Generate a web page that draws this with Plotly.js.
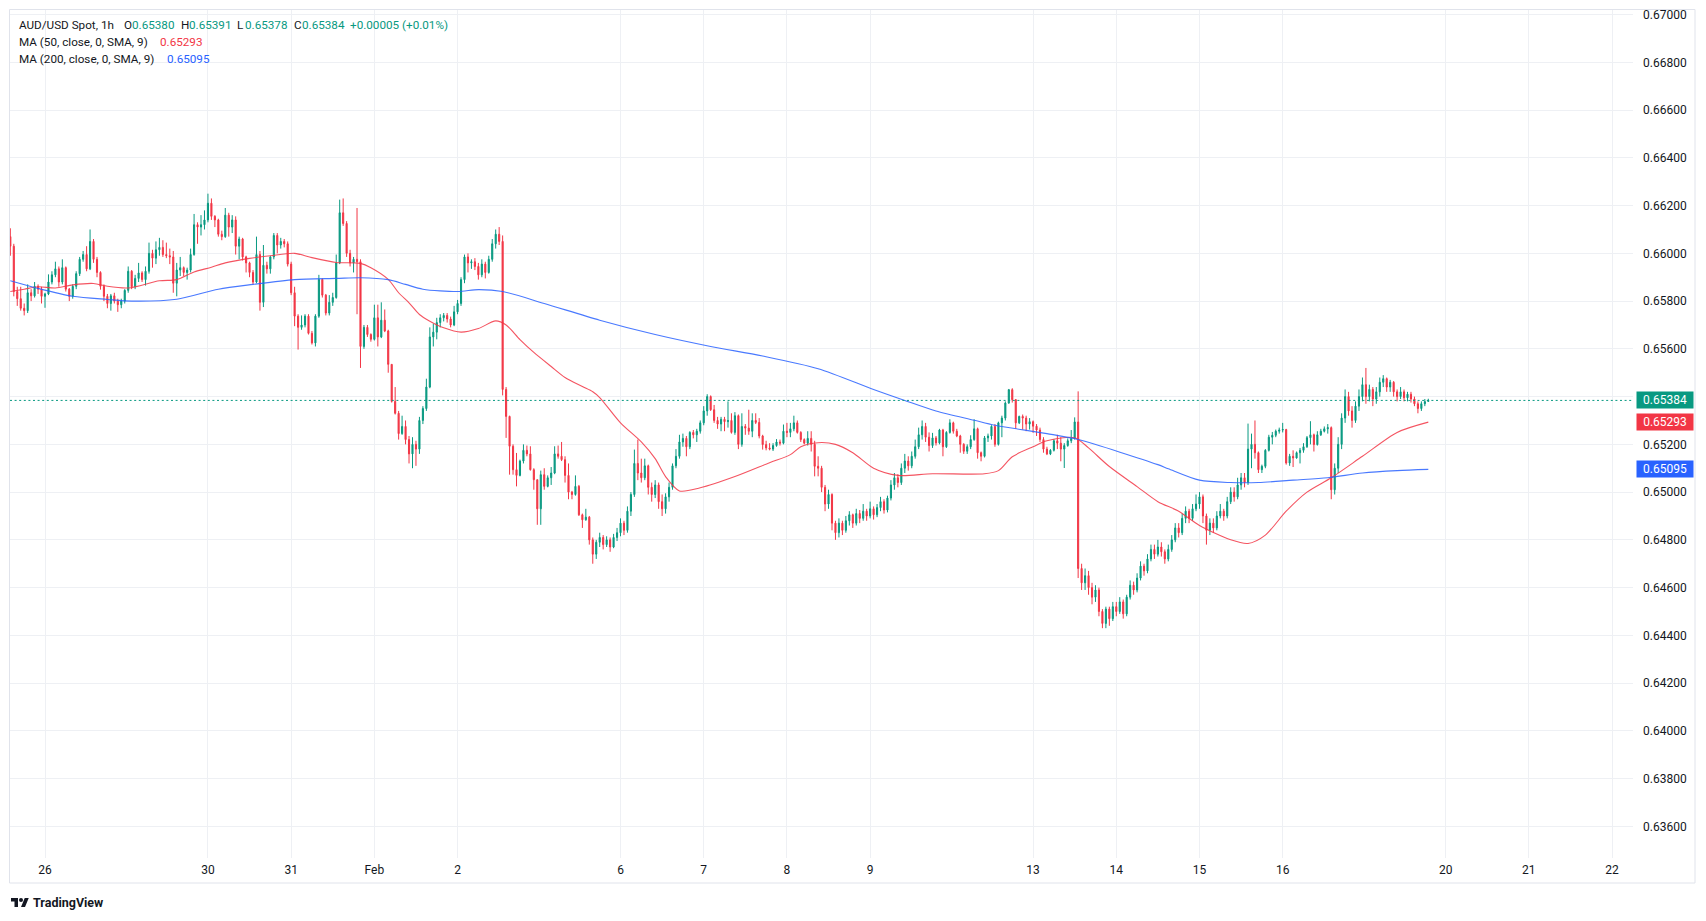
<!DOCTYPE html>
<html><head><meta charset="utf-8">
<script src="https://cdn.plot.ly/plotly-3.0.1.min.js"></script>
<style>html,body{margin:0;padding:0;background:#fff;overflow:hidden}#chart{width:1706px;height:921px}</style>
</head><body><div id="chart"></div>
<script>
// ---- tick labels ----
const dayTickIdx  = [10, 57, 81, 105, 129, 176, 200, 224, 248, 295, 319, 343, 367, 414, 438, 462];
const dayTickText = ['26','30','31','Feb','2','6','7','8','9','13','14','15','16','20','21','22'];
const priceTicks = [0.636,0.638,0.640,0.642,0.644,0.646,0.648,0.650,0.652,0.654,0.656,0.658,0.660,0.662,0.664,0.666,0.668,0.670];
const priceTickText = ['0.63600','0.63800','0.64000','0.64200','0.64400','0.64600','0.64800','0.65000','0.65200','0.65400','0.65600','0.65800','0.66000','0.66200','0.66400','0.66600','0.66800','0.67000'];

// ---- hourly OHLC, AUD/USD (units of 0.00001), index = hourly bar ----
const open = [
 66070,66030,65840,65810,65770,65760,65835,65822,65862,65850,
 65820,65830,65880,65910,65935,65880,65940,65850,65820,65862,65915,65975,65995,65935,66050,65975,65920,65862,65820,65790,65822,65800,65785,
 65800,65845,65925,65860,65895,65918,65890,65925,66000,65980,66015,66025,65995,65990,65985,65875,65930,65940,65920,65930,65995,66120,66110,66120,
 66140,66210,66155,66140,66080,66070,66160,66110,66140,66030,66060,65985,65960,65920,65880,65995,65795,65950,65935,65985,66075,66035,66050,66040,
 65955,65835,65737,65690,65700,65737,65665,65625,65737,65891,65825,65750,65795,65815,65960,66170,66125,66000,65960,65975,65965,65610,65690,65660,
 65640,65730,65650,65720,65675,65535,65380,65330,65245,65275,65220,65160,65200,65180,65300,65350,65440,65650,65670,65710,65730,65740,65725,65700,
 65755,65790,65890,65985,65960,65965,65945,65910,65955,65920,65975,66040,66080,66050,65430,65317,65192,65094,65070,65130,65175,65160,65094,
 65052,64930,65073,65024,65060,65080,65160,65150,65136,65070,65000,64990,65024,64905,64884,64895,64800,64740,64790,64810,64780,64800,64770,64810,
 64830,64870,64840,64920,64990,65120,65080,65060,65110,65020,64990,65030,64960,64930,64980,65020,65110,65150,65210,65225,65190,65250,65240,65255,
 65290,65340,65400,65345,65300,65285,65305,65295,65300,65250,65320,65200,65275,65268,65255,65300,65292,65235,65199,65185,65180,65195,65210,65205,
 65255,65250,65265,65290,65250,65220,65205,65225,65200,65108,65100,65020,64950,64990,64870,64830,64870,64840,64880,64905,64870,64910,64890,64920,
 64900,64930,64905,64935,64960,64925,64975,65030,65060,65040,65100,65130,65110,65150,65190,65240,65275,65230,65195,65227,65206,65260,65190,
 65250,65290,65255,65235,65200,65171,65190,65220,65265,65165,65150,65227,65235,65275,65200,65290,65310,65373,65429,65387,65290,65317,65310,65285,
 65295,65276,65260,65220,65180,65160,65175,65215,65205,65180,65195,65215,65225,65294,64680,64620,64650,64600,64560,64590,64500,64450,64510,64470,
 64520,64500,64540,64490,64560,64610,64590,64640,64690,64670,64720,64760,64740,64770,64750,64720,64760,64800,64850,64830,64890,64920,64890,64930,
 64950,64980,64900,64840,64870,64850,64900,64920,64900,64960,65000,64980,65030,65060,65040,65180,65200,65165,65094,65108,65175,65230,65238,65255,
 65260,65262,65122,65150,65143,65165,65175,65190,65228,65240,65199,65240,65255,65265,65270,65010,65100,65200,65310,65400,65340,65300,65360,
 65400,65450,65400,65430,65390,65420,65460,65475,65440,65460,65420,65400,65420,65395,65410,65390,65370,65350,65370,65380
];
const high = [
 66105,66040,65860,65860,65790,65870,65850,65880,65870,65860,
 65835,65912,65925,65965,65945,65975,65945,65855,65870,65925,65985,66010,66030,66100,66060,65985,65925,65870,65830,65830,65835,65810,65810,
 65850,65945,65930,65910,65960,65925,65945,66045,66015,66050,66065,66055,66045,66020,66010,65960,65985,65945,65940,66020,66165,66130,66160,66180,
 66250,66230,66160,66145,66095,66190,66170,66160,66155,66070,66065,65990,65965,65930,66070,66010,66035,65965,65990,66085,66085,66065,66060,66050,
 65965,65860,65745,65740,65745,65745,65675,65745,65910,65895,65830,65825,65835,65995,66225,66230,66135,66015,65985,66190,65975,65700,65700,65665,
 65785,65785,65795,65765,65680,65535,65440,65340,65320,65300,65235,65230,65215,65315,65360,65475,65690,65705,65730,65745,65750,65750,65735,65780,
 65805,65900,65995,66000,65975,65980,65960,65975,65965,65990,66060,66100,66110,66075,65440,65320,65200,65164,65136,65200,65195,65192,65100,
 65052,65090,65100,65070,65105,65192,65195,65210,65150,65120,65005,65070,65030,64910,64930,64900,64810,64800,64830,64820,64815,64810,64825,64850,
 64890,64880,64940,65000,65178,65220,65140,65140,65115,65040,65050,65040,64990,64995,65040,65120,65180,65240,65245,65235,65255,65260,65265,65300,
 65360,65410,65405,65365,65315,65315,65315,65380,65330,65335,65325,65330,65285,65345,65330,65330,65310,65240,65215,65205,65205,65222,65220,65283,
 65290,65290,65320,65300,65255,65225,65255,65255,65215,65150,65110,65030,65010,64995,64880,64890,64880,64900,64920,64910,64930,64925,64950,64930,
 64960,64940,64950,64980,64970,64985,65050,65080,65075,65120,65160,65150,65170,65220,65270,65300,65290,65250,65248,65235,65265,65265,65255,
 65305,65295,65265,65240,65205,65200,65238,65305,65270,65170,65235,65245,65280,65285,65295,65320,65380,65432,65435,65390,65320,65325,65320,65310,
 65300,65285,65270,65230,65190,65180,65222,65240,65230,65205,65225,65260,65313,65422,64700,64680,64670,64620,64610,64600,64510,64520,64520,64540,
 64540,64560,64550,64570,64630,64625,64660,64710,64700,64740,64780,64780,64800,64790,64760,64780,64820,64870,64870,64910,64940,64930,64950,64990,
 65000,64990,64910,64890,64890,64920,64950,64930,64980,65020,65020,65060,65080,65080,65287,65245,65300,65170,65115,65180,65240,65252,65262,65270,
 65290,65265,65160,65175,65170,65185,65205,65235,65297,65245,65255,65265,65275,65285,65275,65120,65230,65330,65430,65420,65360,65380,65430,
 65480,65520,65450,65440,65440,65480,65490,65480,65470,65465,65430,65440,65430,65420,65420,65400,65380,65380,65390,65391
];
const low = [
 65990,65820,65780,65760,65740,65750,65800,65815,65830,65790,
 65772,65825,65870,65900,65860,65870,65840,65800,65810,65850,65905,65965,65925,65930,65960,65900,65848,65800,65770,65760,65790,65755,65770,
 65790,65835,65850,65850,65880,65880,65865,65915,65940,65955,65990,65985,65980,65955,65835,65820,65905,65905,65890,65920,65990,66040,66075,66100,
 66130,66140,66110,66070,66055,66065,66070,66085,65995,65975,65970,65920,65900,65870,65875,65760,65775,65915,65915,65975,66000,66020,66025,65945,
 65825,65695,65597,65680,65690,65660,65618,65610,65730,65815,65740,65740,65780,65810,65955,66115,65985,65945,65920,65745,65520,65600,65650,65630,
 65635,65610,65645,65670,65500,65375,65325,65220,65240,65200,65120,65100,65110,65160,65285,65340,65435,65610,65640,65690,65715,65710,65690,65695,
 65745,65780,65875,65920,65935,65930,65890,65900,65895,65915,65965,66020,66035,65405,65227,65073,65073,65024,65066,65120,65150,65090,65010,
 64863,64863,65010,65020,65030,65075,65140,65130,65040,64970,64970,64985,64900,64850,64880,64780,64700,64720,64770,64760,64770,64750,64765,64795,
 64815,64820,64830,64900,64980,65050,65040,65050,64990,64960,64975,64930,64900,64910,64960,65010,65100,65140,65190,65150,65180,65225,65210,65245,
 65280,65320,65340,65290,65265,65255,65255,65270,65245,65240,65180,65190,65240,65240,65230,65285,65225,65178,65175,65175,65172,65190,65195,65200,
 65230,65230,65255,65245,65210,65200,65195,65170,65066,65066,65000,64920,64930,64840,64800,64810,64820,64830,64860,64850,64860,64870,64880,64880,
 64890,64885,64895,64920,64910,64915,64965,65010,65020,65030,65080,65090,65100,65140,65180,65220,65210,65170,65185,65195,65200,65150,65185,
 65245,65245,65230,65165,65160,65160,65180,65215,65140,65129,65145,65210,65220,65190,65195,65230,65300,65370,65375,65265,65285,65262,65255,65262,
 65248,65235,65210,65165,65155,65155,65170,65180,65129,65101,65190,65205,65220,64640,64590,64590,64570,64530,64540,64480,64430,64430,64440,64460,
 64480,64490,64470,64480,64550,64570,64580,64630,64650,64660,64710,64720,64730,64730,64700,64710,64750,64790,64810,64820,64870,64870,64880,64920,
 64930,64870,64780,64820,64830,64840,64890,64880,64890,64950,64960,64970,65010,65020,65030,65100,65140,65080,65080,65100,65170,65200,65230,65245,
 65250,65115,65110,65105,65140,65120,65165,65185,65200,65170,65195,65235,65250,65245,64970,64990,65080,65180,65290,65320,65270,65290,65340,
 65380,65370,65380,65360,65370,65400,65440,65420,65420,65400,65380,65390,65380,65380,65375,65360,65330,65340,65360,65378
];
const close = [
 66030,65840,65810,65770,65760,65835,65822,65862,65850,65820,
 65830,65880,65910,65935,65880,65940,65850,65820,65862,65915,65975,65995,65935,66050,65975,65920,65862,65820,65790,65822,65800,65785,65800,
 65845,65925,65860,65895,65918,65890,65925,66000,65980,66015,66025,65995,65990,65985,65875,65930,65940,65920,65930,65995,66120,66110,66120,66140,
 66210,66155,66140,66080,66070,66160,66110,66140,66030,66060,65985,65960,65920,65880,65995,65795,65950,65935,65985,66075,66035,66050,66040,65955,
 65835,65737,65690,65700,65737,65665,65625,65737,65891,65825,65750,65795,65815,65960,66170,66125,66000,65960,65975,65965,65610,65690,65660,65640,
 65730,65650,65720,65675,65535,65380,65330,65245,65275,65220,65160,65200,65180,65300,65350,65440,65650,65670,65710,65730,65740,65725,65700,65755,
 65790,65890,65985,65960,65965,65945,65910,65955,65920,65975,66040,66080,66050,65430,65317,65192,65094,65070,65130,65175,65160,65094,65052,
 64930,65073,65024,65060,65080,65160,65150,65136,65070,65000,64990,65024,64905,64884,64895,64800,64740,64790,64810,64780,64800,64770,64810,64830,
 64870,64840,64920,64990,65120,65080,65060,65110,65020,64990,65030,64960,64930,64980,65020,65110,65150,65210,65225,65190,65250,65240,65255,65290,
 65340,65400,65345,65300,65285,65305,65295,65300,65250,65320,65200,65275,65268,65255,65300,65292,65235,65199,65185,65180,65195,65210,65205,65255,
 65250,65265,65290,65250,65220,65205,65225,65200,65108,65100,65020,64950,64990,64870,64830,64870,64840,64880,64905,64870,64910,64890,64920,64900,
 64930,64905,64935,64960,64925,64975,65030,65060,65040,65100,65130,65110,65150,65190,65240,65275,65230,65195,65227,65206,65260,65190,65250,
 65290,65255,65235,65200,65171,65190,65220,65265,65165,65150,65227,65235,65275,65200,65290,65310,65373,65429,65387,65290,65317,65310,65285,65295,
 65276,65260,65220,65180,65160,65175,65215,65205,65180,65195,65215,65225,65294,64680,64620,64650,64600,64560,64590,64500,64450,64510,64470,64520,
 64500,64540,64490,64560,64610,64590,64640,64690,64670,64720,64760,64740,64770,64750,64720,64760,64800,64850,64830,64890,64920,64890,64930,64950,
 64980,64900,64840,64870,64850,64900,64920,64900,64960,65000,64980,65030,65060,65040,65180,65200,65165,65094,65108,65175,65230,65238,65255,65260,
 65262,65122,65150,65143,65165,65175,65190,65228,65240,65199,65240,65255,65265,65270,65010,65100,65200,65310,65400,65340,65300,65360,65400,
 65450,65400,65430,65390,65420,65460,65475,65440,65460,65420,65400,65420,65395,65410,65390,65370,65350,65370,65379,65384
];

// ---- moving averages (bar index -> value) ----
const ma50Idx = [0,4,8,13,18,24,28,34,43,48,53,58,62,69,75,82,87,94,101,104,109,112,115,118,121,125,130,135,140,143,147,151,156,160,165,168,170,176,182,186,189,193,199,209,219,225,228,233,238,243,249,256,266,281,285,289,295,299,307,311,317,325,331,337,343,352,357,362,368,374,381,390,400,409];
const ma50 = [0.65840,0.65850,0.65860,0.65855,0.65868,0.65874,0.65862,0.65855,0.65885,0.65890,0.65922,0.65942,0.65960,0.65979,0.65990,0.66000,0.65982,0.65962,0.65958,0.65940,0.65891,0.65835,0.65793,0.65744,0.65716,0.65688,0.65670,0.65685,0.65717,0.65700,0.65639,0.65585,0.65526,0.65480,0.65442,0.65420,0.65396,0.65290,0.65210,0.65140,0.65065,0.65005,0.65018,0.65065,0.65123,0.65157,0.65190,0.65207,0.65200,0.65165,0.65100,0.65070,0.65077,0.65077,0.65090,0.65148,0.65190,0.65215,0.65228,0.65185,0.65107,0.65023,0.64960,0.64920,0.64860,0.64800,0.64785,0.64820,0.64920,0.65000,0.65060,0.65150,0.65250,0.65293];
const ma200Idx = [0,8,18,28,35,48,60,70,82,94,101,109,114,119,129,135,142,154,170,186,202,217,233,249,258,267,278,284,299,308,331,334,343,352,360,370,380,390,400,409];
const ma200 = [0.65885,0.65853,0.65820,0.65807,0.65800,0.65808,0.65850,0.65870,0.65890,0.65895,0.65898,0.65890,0.65870,0.65850,0.65840,0.65848,0.65840,0.65790,0.65720,0.65660,0.65610,0.65570,0.65517,0.65430,0.65384,0.65340,0.65301,0.65280,0.65245,0.65220,0.65115,0.65098,0.65050,0.65040,0.65040,0.65050,0.65060,0.65080,0.65090,0.65095];

// ---- colours ----
const UP = '#089981', DOWN = '#F23645', BLUE = '#2962FF', TXT = '#131722', GRID = '#EEF0F4';
const FONT = 'Roboto, "Open Sans", Arial, sans-serif';

const n = Math.min(open.length, high.length, low.length, close.length);
const xs = [], O = [], Hh = [], Ll = [], C = [];
for (let i = 0; i < n; i++) { xs.push(i); O.push(open[i]/1e5); Hh.push(high[i]/1e5); Ll.push(low[i]/1e5); C.push(close[i]/1e5); }
const last = n - 1;
const lastClose = C[last];
const ma50Last = ma50[ma50.length-1], ma200Last = ma200[ma200.length-1];

const traces = [
  {type:'candlestick', x:xs, open:O, high:Hh, low:Ll, close:C, whiskerwidth:0,
   increasing:{line:{color:UP,width:1}, fillcolor:UP},
   decreasing:{line:{color:DOWN,width:1}, fillcolor:DOWN},
   hoverinfo:'skip', showlegend:false},
  {type:'scatter', mode:'lines', x:ma50Idx, y:ma50, line:{color:DOWN,width:1.1,shape:'spline',smoothing:0.8}, opacity:0.85, hoverinfo:'skip', showlegend:false},
  {type:'scatter', mode:'lines', x:ma200Idx, y:ma200, line:{color:BLUE,width:1.1,shape:'spline',smoothing:0.8}, opacity:0.85, hoverinfo:'skip', showlegend:false}
];

// pixel -> paper helpers (plot area 10..1633 x 10..858)
const PL = 10, PR = 1633, PT = 10, PB = 858;
const px = v => (v - PL) / (PR - PL);
const py = v => (PB - v) / (PB - PT);

const labelVals = [lastClose, ma50Last, ma200Last];
const yTickText = priceTicks.map((v, i) => labelVals.some(l => Math.abs(l - v) < 0.0004) ? '' : priceTickText[i]);

const f5 = v => v.toFixed(5);
const chg = close[last] - close[last-1];
const chgTxt = (chg >= 0 ? '+' : '') + (chg/1e5).toFixed(5) + ' (' + (chg >= 0 ? '+' : '') + (chg/close[last-1]*100).toFixed(2) + '%)';

const HS = 11.7;
function txt(t, x, y, color, extra) {
  return Object.assign({text:t, xref:'paper', yref:'paper', x:px(x), y:py(y), xanchor:'left', yanchor:'middle',
    showarrow:false, borderpad:0, font:{family:FONT, size:HS, color:color}}, extra || {});
}
const Y1 = 25, Y2 = 42.2, Y3 = 59.4;
const annotations = [
  txt('AUD/USD Spot, 1h', 18, Y1, TXT),
  txt('O', 123, Y1, TXT), txt(f5(O[last]), 130.5, Y1, UP),
  txt('H', 179.5, Y1, TXT), txt(f5(Hh[last]), 187.5, Y1, UP),
  txt('L', 236.5, Y1, TXT), txt(f5(Ll[last]), 244, Y1, UP),
  txt('C', 292.5, Y1, TXT), txt(f5(C[last]), 300.5, Y1, UP),
  txt(chgTxt, 349, Y1, UP),
  txt('MA (50, close, 0, SMA, 9)', 18, Y2, TXT), txt(f5(ma50Last), 159, Y2, DOWN),
  txt('MA (200, close, 0, SMA, 9)', 18, Y3, TXT), txt(f5(ma200Last), 166, Y3, BLUE),
  txt('TradingView', 32, 903, TXT, {font:{family:FONT, size:12.5, color:TXT, weight:700}})
];
// right-axis value labels
[[lastClose, UP], [ma50Last, DOWN], [ma200Last, BLUE]].forEach(([v, col]) => {
  annotations.push({text:f5(v), xref:'paper', yref:'y', x:px(1636), y:v, xanchor:'left', yanchor:'middle',
    showarrow:false, bgcolor:col, width:54, height:14, borderpad:1, align:'center',
    font:{family:FONT, size:12, color:'#ffffff'}});
});

const logoSvg = 'data:image/svg+xml;utf8,' + encodeURIComponent('<svg xmlns="http://www.w3.org/2000/svg" width="36" height="28" viewBox="0 0 36 28"><path d="M14 22H7V11H0V4h14v18zM28 22h-8l7.5-18h8L28 22z" fill="#131722"/><circle cx="20" cy="8" r="4" fill="#131722"/></svg>');

const layout = {
  width:1706, height:921,
  margin:{l:PL, r:1706-PR, t:PT, b:921-PB, pad:0},
  paper_bgcolor:'#ffffff', plot_bgcolor:'#ffffff',
  font:{family:FONT, size:12, color:TXT},
  showlegend:false, boxgap:0.55,
  xaxis:{type:'linear', range:[-0.095, 468.04], tickmode:'array', tickvals:dayTickIdx, ticktext:dayTickText,
         showgrid:true, gridcolor:GRID, gridwidth:1, zeroline:false, showline:false, ticks:'',
         ticklabelstandoff:3, tickfont:{family:FONT, size:12, color:TXT}, rangeslider:{visible:false}, fixedrange:true},
  yaxis:{side:'right', range:[0.634674, 0.670193], tickmode:'array', tickvals:priceTicks, ticktext:yTickText,
         showgrid:true, gridcolor:GRID, gridwidth:1, zeroline:false, showline:false, ticks:'',
         ticklabelstandoff:9, tickfont:{family:FONT, size:12, color:TXT}, fixedrange:true},
  shapes:[
    {type:'line', xref:'paper', yref:'y', x0:0, x1:1, y0:lastClose, y1:lastClose, layer:'above',
     line:{color:UP, width:1, dash:'2px,2.6px'}},
    {type:'rect', xref:'paper', yref:'paper', x0:px(9.5), x1:px(1695), y0:py(883), y1:py(9.5), layer:'below',
     line:{color:'#E0E3EB', width:1}, fillcolor:'rgba(0,0,0,0)'}
  ],
  annotations:annotations,
  images:[{source:logoSvg, xref:'paper', yref:'paper', x:px(11), y:py(896), sizex:18/(PR-PL), sizey:14/(PB-PT),
           xanchor:'left', yanchor:'top', sizing:'stretch', layer:'above'}]
};

Plotly.newPlot('chart', traces, layout, {staticPlot:true, displayModeBar:false});
</script>
</body></html>
